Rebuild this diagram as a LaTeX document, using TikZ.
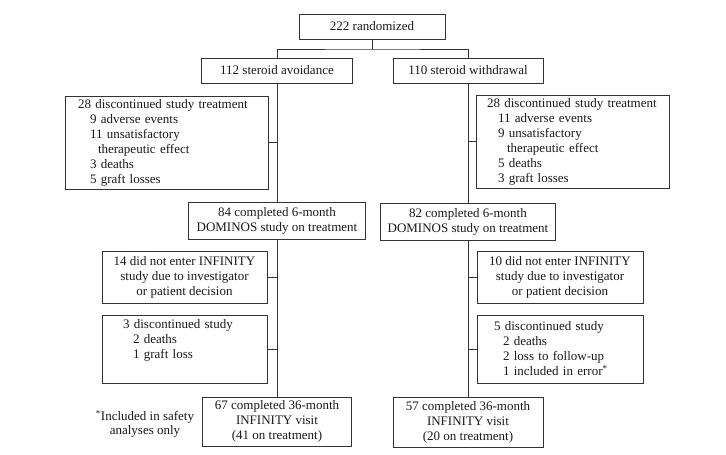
\documentclass[tikz,border=0pt]{standalone}
\usepackage{fontspec}
\setmainfont{Liberation Serif}
\usepackage{tikz}

\begin{document}
\begin{tikzpicture}[x=1pt,y=-1pt,
		box/.style={draw=black!80, line width=0.8pt, inner sep=0pt, align=center, text=black!90, font=\fontsize{13}{15}\selectfont},
		listbox/.style={box, align=left},
		link/.style={draw=black!80, line width=0.8pt}]
		\useasboundingbox (0,0) rectangle (726,455);
		% top
		\node[box, minimum width=146, minimum height=25] (rand) at (372,26.5) {222 randomized};
		\node[box, minimum width=151, minimum height=25] (avoid) at (277,70.5) {112 steroid avoidance};
		\node[box, minimum width=150, minimum height=25] (withdr) at (468,70.5) {110 steroid withdrawal};
		\coordinate (split) at (372,49);
		% discontinued treatment
		\node[listbox, text width=177, inner xsep=13, minimum height=93] (discA) at (166.5,142.5) {28 discontinued study treatment\\
			\hspace*{12pt}9 adverse events\\
			\hspace*{12pt}11 unsatisfactory\\
			\hspace*{20pt}therapeutic effect\\
			\hspace*{12pt}3 deaths\\
			\hspace*{12pt}5 graft losses};
		\node[listbox, text width=171, inner xsep=11, minimum height=93] (discW) at (572.5,141.5) {28 discontinued study treatment\\
			\hspace*{11pt}11 adverse events\\
			\hspace*{11pt}9 unsatisfactory\\
			\hspace*{20pt}therapeutic effect\\
			\hspace*{11pt}5 deaths\\
			\hspace*{11pt}3 graft losses};
		% 6 months
		\node[box, minimum width=177, minimum height=37] (sixA) at (277,220.5) {84 completed 6-month\\DOMINOS study on treatment};
		\node[box, minimum width=175, minimum height=37] (sixW) at (468,221.5) {82 completed 6-month\\DOMINOS study on treatment};
		\node[box, minimum width=165, minimum height=52] (notA) at (184.5,277) {14 did not enter INFINITY\\study due to investigator\\or patient decision};
		\node[box, minimum width=166, minimum height=52] (notW) at (560,277) {10 did not enter INFINITY\\study due to investigator\\or patient decision};
		\node[listbox, text width=123, inner xsep=21, minimum height=68] (stopA) at (184.5,349) {3 discontinued study\\
			\hspace*{10pt}2 deaths\\
			\hspace*{10pt}1 graft loss\\ \strut};
		\node[listbox, text width=132, inner xsep=17, minimum height=68] (stopW) at (560,349) {5 discontinued study\\
			\hspace*{9pt}2 deaths\\
			\hspace*{9pt}2 loss to follow-up\\
			\hspace*{9pt}1 included in error\textsuperscript{*}};
		% 36 months
		\node[box, minimum width=149, minimum height=49] (endA) at (277,421.5) {67 completed 36-month\\INFINITY visit\\(41 on treatment)};
		\node[box, minimum width=150, minimum height=50] (endW) at (468,422) {57 completed 36-month\\INFINITY visit\\(20 on treatment)};
		\node[align=center, inner sep=0pt, text=black!90, font=\fontsize{13}{14}\selectfont] (note) at (145,424) {\textsuperscript{*}Included in safety\\analyses only};
		% connectors
		\draw[link] (rand.south) -- (split);
		\draw[link] (avoid.north) |- (split) -| (withdr.north);
		\draw[link] (avoid) -- (sixA);
		\draw[link] (sixA) -- (endA);
		\draw[link] (withdr) -- (sixW);
		\draw[link] (sixW) -- (endW);
		\draw[link] (discA.east) -- (discA.east -| avoid.south);
		\draw[link] (notA.east) -- (notA.east -| sixA.south);
		\draw[link] (stopA.east) -- (stopA.east -| sixA.south);
		\draw[link] (discW.west) -- (discW.west -| withdr.south);
		\draw[link] (notW.west) -- (notW.west -| sixW.south);
		\draw[link] (stopW.west) -- (stopW.west -| sixW.south);
	\end{tikzpicture}
\end{document}
